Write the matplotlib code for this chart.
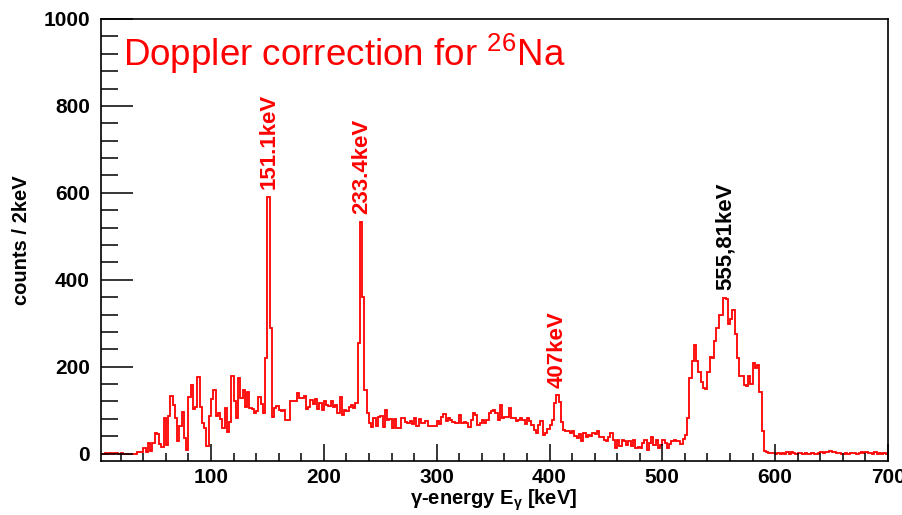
import numpy as np
import matplotlib.pyplot as plt
from matplotlib.ticker import MultipleLocator

plt.rcParams['font.family'] = ['Liberation Sans', 'DejaVu Sans']
plt.rcParams['mathtext.fontset'] = 'custom'
plt.rcParams['mathtext.rm'] = 'Liberation Sans'
plt.rcParams['mathtext.it'] = 'Liberation Sans:italic'
plt.rcParams['mathtext.bf'] = 'Liberation Sans:bold'

# Doppler corrected gamma spectrum, 2 keV bins from 0 to 700 keV
bin_width = 2
e_min, e_max = 0, 700

counts_0_100 = [0, 0, 0, 1, 0, 1, 0, 1, 1, 0,
                1, 0, 0, 0, 0, 0, 0, 4, 4, 4,
                14, 3, 24, 5, 24, 47, 45, 22, 16, 83,
                19, 87, 132, 112, 81, 28, 63, 96, 37, 8,
                130, 157, 102, 108, 177, 108, 70, 58, 17, 87]
counts_100_200 = [125, 146, 86, 94, 79, 58, 104, 50, 72, 178,
                  120, 81, 175, 129, 147, 108, 142, 106, 103, 94,
                  97, 131, 115, 94, 220, 591, 290, 85, 104, 109,
                  101, 99, 101, 77, 77, 120, 120, 120, 139, 127,
                  127, 133, 103, 108, 123, 114, 125, 103, 117, 101]
counts_200_300 = [121, 111, 109, 121, 108, 111, 94, 131, 89, 101,
                  98, 108, 111, 104, 117, 255, 534, 360, 146, 93,
                  71, 62, 81, 63, 84, 86, 62, 101, 77, 79,
                  58, 79, 60, 60, 83, 81, 72, 71, 75, 69,
                  83, 64, 79, 70, 70, 75, 64, 64, 64, 63]
counts_300_400 = [75, 69, 85, 91, 75, 83, 77, 73, 70, 70,
                  89, 70, 73, 70, 62, 77, 93, 89, 66, 70,
                  77, 70, 77, 93, 99, 100, 94, 77, 113, 83,
                  84, 85, 104, 81, 81, 75, 77, 81, 77, 68,
                  83, 75, 66, 54, 47, 66, 75, 43, 47, 57]
counts_400_500 = [66, 77, 117, 134, 119, 73, 54, 51, 52, 48,
                  53, 41, 37, 45, 28, 48, 39, 43, 41, 47,
                  45, 51, 39, 38, 31, 28, 39, 48, 31, 14,
                  31, 17, 31, 28, 20, 28, 17, 31, 12, 16,
                  14, 25, 31, 8, 25, 38, 20, 31, 14, 20]
counts_500_600 = [31, 25, 14, 23, 28, 31, 29, 30, 23, 34,
                  43, 81, 173, 213, 249, 214, 188, 165, 150, 149,
                  187, 222, 221, 259, 290, 318, 319, 359, 355, 299,
                  309, 330, 276, 219, 179, 179, 158, 155, 179, 161,
                  209, 198, 203, 142, 51, 7, 3, 2, 1, 1]
counts_600_700 = [0, 1, 0, 2, 0, 4, 0, 3, 1, 0,
                  2, 1, 0, 1, 0, 0, 2, 0, 0, 2,
                  3, 2, 4, 3, 5, 4, 3, 2, 1, 0,
                  0, 1, 0, 1, 1, 2, 0, 1, 3, 2,
                  4, 1, 2, 0, 3, 0, 1, 0, 2, 0]

counts = np.array(counts_0_100 + counts_100_200 + counts_200_300 + counts_300_400
                  + counts_400_500 + counts_500_600 + counts_600_700)
edges = np.arange(e_min, e_max + bin_width, bin_width)

# identified transitions
peak_energies = [151.1, 233.4, 407.0, 555.81]
peak_labels = ['151.1keV', '233.4keV', '407keV', '555,81keV']
peak_colors = ['red', 'red', 'red', 'black']

fig = plt.figure(figsize=(9.03, 5.15), dpi=100)
ax = fig.add_axes([101 / 903, 1 - 461 / 515, 787 / 903, 442 / 515])

ax.stairs(counts, edges, color='red', lw=1.3)

ax.set_xlim(2.5, 700)
ax.set_ylim(-17, 1000)

ax.set_xticks([100, 200, 300, 400, 500, 600, 700])
ax.xaxis.set_minor_locator(MultipleLocator(20))
ax.set_yticks([0, 200, 400, 600, 800, 1000])
ax.yaxis.set_minor_locator(MultipleLocator(40))

ax.tick_params(which='both', direction='in', top=False, right=False,
               width=1.1, labelsize=15)
ax.tick_params(axis='x', which='major', length=12, pad=5)
ax.tick_params(axis='x', which='minor', length=6)
ax.tick_params(axis='y', which='major', length=23, pad=8)
ax.tick_params(axis='y', which='minor', length=12)
for lab in ax.get_xticklabels() + ax.get_yticklabels():
    lab.set_fontweight('bold')
for sp in ax.spines.values():
    sp.set_linewidth(1.2)

# peak annotations just above the local maximum
for e, lab, col in zip(peak_energies, peak_labels, peak_colors):
    i = int(e // bin_width)
    top = counts[max(i - 2, 0):i + 3].max()
    ax.text(e, top + 18, lab, rotation=90, ha='center', va='bottom',
            color=col, fontsize=16, fontweight='bold')

ax.text(0.028, 0.92, r'Doppler correction for $\mathregular{^{26}}$Na',
        transform=ax.transAxes, color='red', fontsize=26.5,
        ha='left', va='center')

fig.text(22 / 903, 1 - 240 / 515, 'counts / 2keV', rotation=90,
         ha='center', va='center', fontsize=14.5, fontweight='bold')
fig.text(494 / 903, 1 - 500 / 515,
         r'$\mathbf{\gamma}$-energy E$_{\mathbf{\gamma}}$ [keV]',
         ha='center', va='center', fontsize=14.5, fontweight='bold')

fig.savefig('out.png', dpi=100)
